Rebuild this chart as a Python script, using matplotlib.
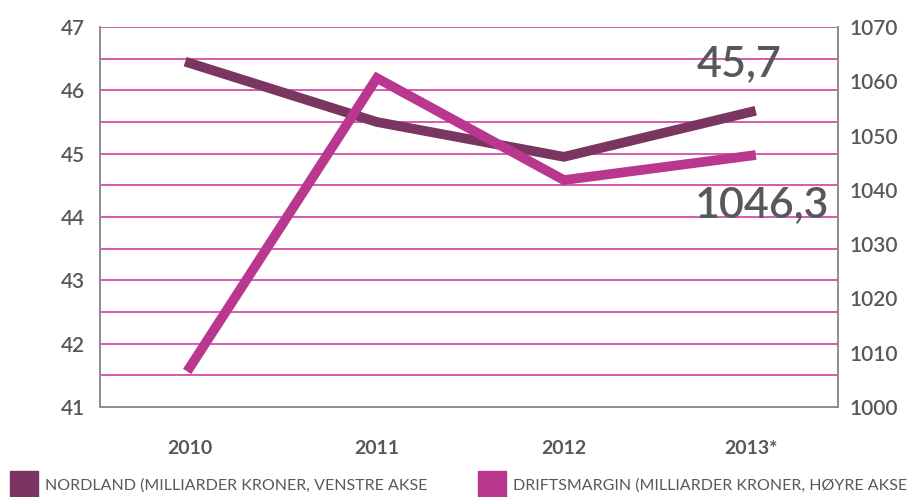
import matplotlib
matplotlib.use("Agg")
import matplotlib.pyplot as plt
from matplotlib.patches import Rectangle
import numpy as np

# data
years = ["2010", "2011", "2012", "2013*"]
nordland = [46.43, 45.5, 44.95, 45.66]          # milliarder kroner, venstre akse
driftsmargin = [1007.3, 1060.6, 1041.8, 1046.3]  # milliarder kroner, hoyre akse
left_ticks = [41, 42, 43, 44, 45, 46, 47]
right_ticks = [1000, 1010, 1020, 1030, 1040, 1050, 1060, 1070]
labels = ["NORDLAND (MILLIARDER KRONER, VENSTRE AKSE",
          "DRIFTSMARGIN (MILLIARDER KRONER, HØYRE AKSE"]

c_nord = "#7a3560"
c_drift = "#b9378f"
c_grid = "#d1409e"
c_text = "#58585a"
c_axis = "#8c8c8c"

plt.rcParams['font.family'] = ['Lato', 'DejaVu Sans']

W, H = 908, 497
fig = plt.figure(figsize=(W / 100, H / 100), dpi=100)
ax = fig.add_axes([100 / W, 1 - 407 / H, 738 / W, 380 / H])
ax2 = ax.twinx()

x = np.arange(len(years))
ax.set_xlim(-0.48, 3.465)
ax.set_ylim(41, 47)
ax2.set_ylim(1000, 1070)

for y in np.arange(41.5, 47.01, 0.5):
    ax.axhline(y, color=c_grid, lw=1.2, zorder=1)

ax.plot(x, nordland, color=c_nord, lw=7, solid_joinstyle='miter', zorder=3)
ax2.plot(x, driftsmargin, color=c_drift, lw=7, solid_joinstyle='miter', zorder=3)

for a in (ax, ax2):
    a.spines["top"].set_visible(False)
    for s in ("left", "right", "bottom"):
        a.spines[s].set_color(c_axis)
        a.spines[s].set_linewidth(1.2)

ax.set_yticks(left_ticks)
ax.set_yticklabels([str(t) for t in left_ticks], fontweight='semibold')
ax.tick_params(axis='y', length=0, pad=11, labelsize=15, labelcolor=c_text)
ax.set_yticks([41], minor=True)
ax.tick_params(axis='y', which='minor', length=6, width=1.2, color=c_axis)
ax2.set_yticks(right_ticks)
ax2.set_yticklabels([str(t) for t in right_ticks], fontweight='semibold')
ax2.tick_params(axis='y', length=0, pad=8, labelsize=15, labelcolor=c_text)
ax2.set_yticks([1000], minor=True)
ax2.tick_params(axis='y', which='minor', length=6, width=1.2, color=c_axis)

ax.set_xticks(x)
ax.set_xticklabels(years, fontweight='bold')
ax.tick_params(axis='x', length=0, pad=24, labelsize=14, labelcolor=c_text)

ax2.set_zorder(ax.get_zorder() + 1)
ax2.patch.set_visible(False)

# value labels at the last point
ax.text(x[-1] - 0.065, 46.42, "45,7", ha='center', va='center', fontsize=31,
        fontweight='semibold', color=c_text, zorder=5)
ax2.text(x[-1] + 0.06, 1037.2, "1046,3", ha='center', va='center', fontsize=31,
         fontweight='semibold', color=c_text, zorder=5)

# legend
fig.add_artist(Rectangle((10 / W, 0), 28 / W, 26 / H, transform=fig.transFigure,
                         color=c_nord))
fig.text(45 / W, 11 / H, labels[0], fontsize=11.5, color=c_text, va='center')
fig.add_artist(Rectangle((478 / W, 0), 28 / W, 26 / H, transform=fig.transFigure,
                         color=c_drift))
fig.text(513 / W, 11 / H, labels[1], fontsize=11.5, color=c_text, va='center')

fig.savefig("out.png", dpi=100)
